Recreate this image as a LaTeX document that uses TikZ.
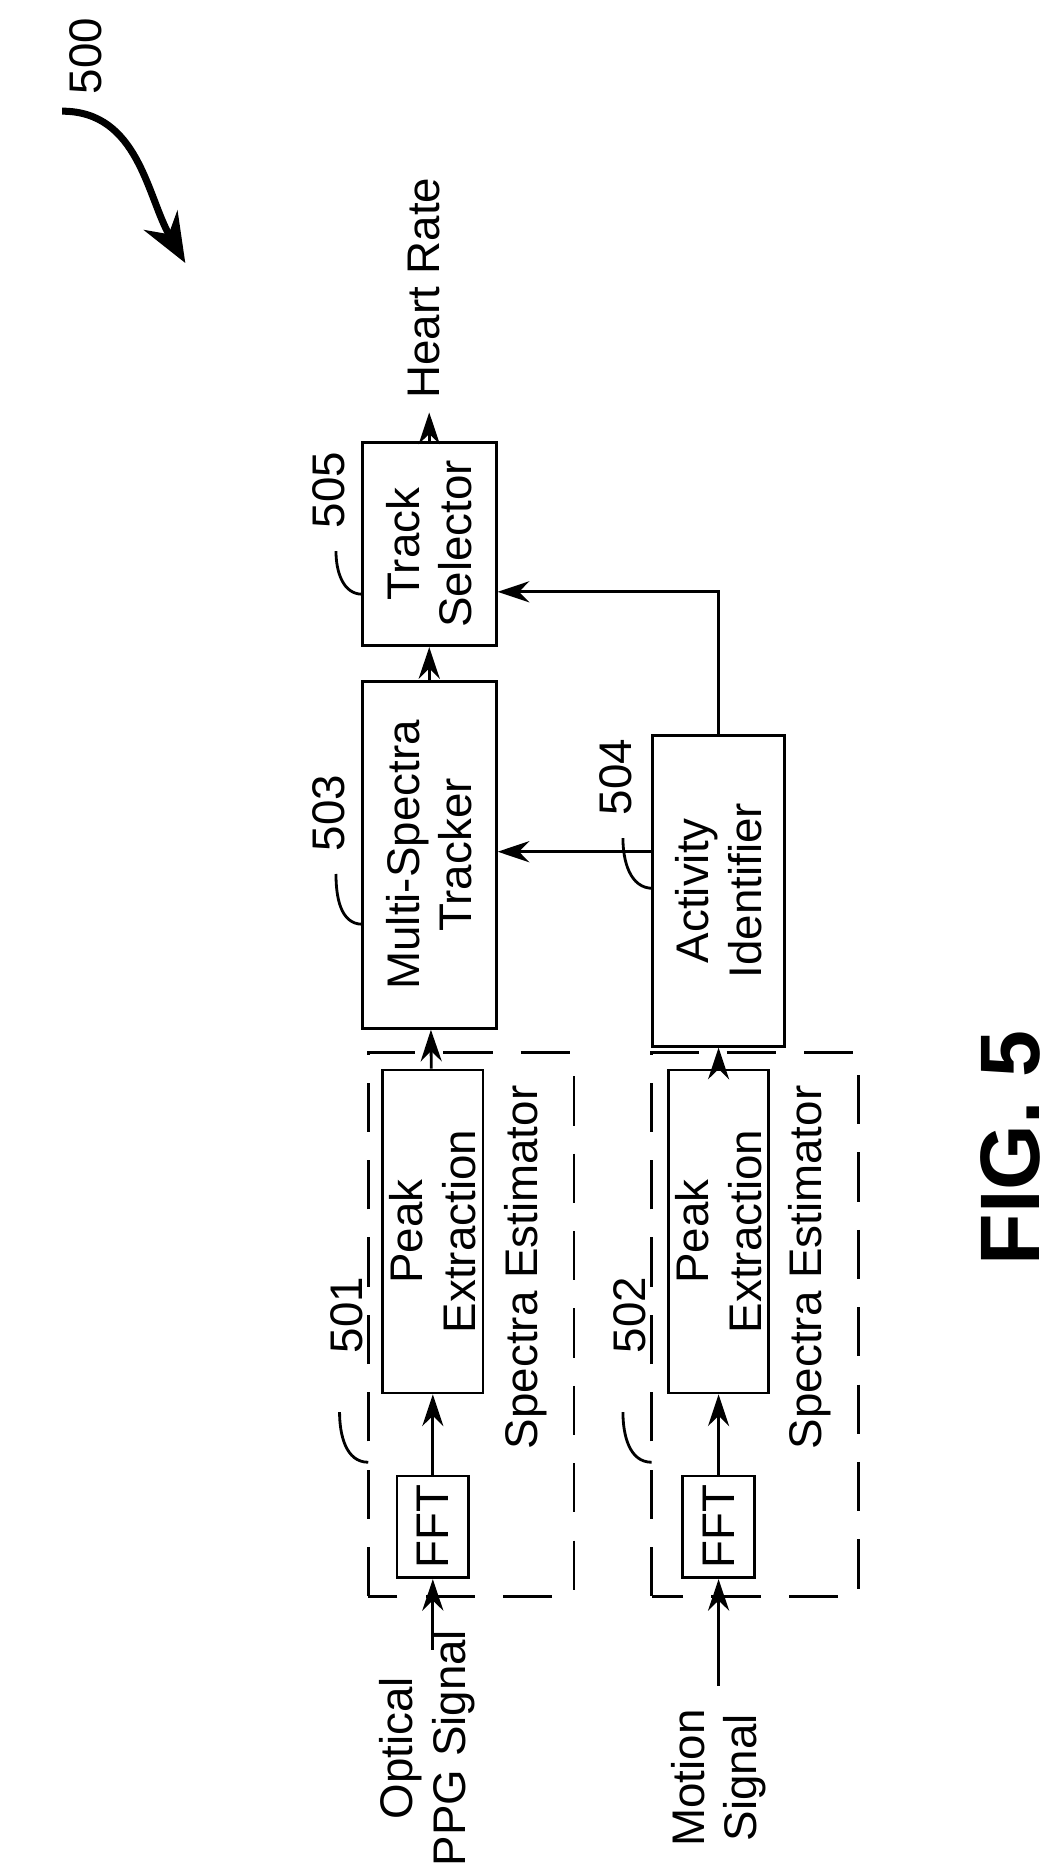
\documentclass[tikz,border=0pt]{standalone}
\usepackage{fontspec}
\setmainfont{Liberation Sans}
\usetikzlibrary{arrows.meta, positioning, calc}

\tikzset{
  blk/.style={draw, thick, rotate=90, align=center, inner sep=2pt, font=\fontsize{13}{15}\selectfont},
  lbl/.style={rotate=90, align=center, font=\fontsize{13}{15}\selectfont},
  arr/.style={-{Stealth[length=9pt,width=6pt]}, thick},
  lead/.style={thick},
  est/.style={draw, thick, dash pattern=on 14pt off 8pt}
}

\begin{document}
\begin{tikzpicture}[x=0.011955cm, y=0.011955cm]
\useasboundingbox (0,0) rectangle (880,1559);

% estimator frames
\draw[est] (308,224) rectangle (480,679);
\draw[est] (545,224) rectangle (718,679);
\node[lbl] (est1) at (440,499) {Spectra Estimator};
\node[lbl] (est2) at (677,499) {Spectra Estimator};

% blocks
\node[blk, minimum width=85*0.11955mm, minimum height=60*0.11955mm] (fft1) at (362,282) {FFT};
\node[blk, minimum width=270*0.11955mm, minimum height=80*0.11955mm] (peak1) at (362,529) {Peak\\Extraction};
\node[blk, minimum width=85*0.11955mm, minimum height=60*0.11955mm] (fft2) at (601,282) {FFT};
\node[blk, minimum width=270*0.11955mm, minimum height=80*0.11955mm] (peak2) at (601,529) {Peak\\Extraction};
\node[blk, minimum width=290*0.11955mm, minimum height=112*0.11955mm] (tracker) at (359,844) {Multi-Spectra\\Tracker};
\node[blk, minimum width=260*0.11955mm, minimum height=110*0.11955mm] (activity) at (601,814) {Activity\\Identifier};
\node[blk, minimum width=170*0.11955mm, minimum height=112*0.11955mm] (selector) at (359,1104) {Track\\Selector};

% inputs and output
\coordinate (ppgin) at (362,179);
\coordinate (motin) at (601,149);
\coordinate (hrout) at (359,1214);
\coordinate (turn) at (601,1064);
\node[lbl] (ppg) at (357,97) {Optical\\PPG Signal};
\node[lbl] (motion) at (601,72) {Motion\\Signal};
\node[lbl] (hrtext) at (355,1318) {Heart Rate};

% connectors
\draw[arr] (ppgin) -- (fft1);
\draw[arr] (fft1) -- (peak1);
\draw[arr] (peak1) -- (tracker);
\draw[arr] (motin) -- (fft2);
\draw[arr] (fft2) -- (peak2);
\draw[arr] (peak2) -- (activity);
\draw[arr] (tracker) -- (selector);
\draw[arr] (selector) -- (hrout);
\draw[arr] ([yshift=0.39cm]activity.north) -- ([yshift=0.39cm]activity.north -| tracker.south);
\draw[arr] (activity.east) -- (turn) -- (turn -| selector.south);

% reference numerals
\node[lbl] (n501) at (290,459) {501};
\draw[lead] (284,378) to[out=-90, in=180] (308,336);
\node[lbl] (n502) at (527,459) {502};
\draw[lead] (521,378) to[out=-90, in=180] (545,336);
\node[lbl] (n503) at (275,879) {503};
\draw[lead] (281,828) to[out=-90, in=180] (303,786);
\node[lbl] (n504) at (515,909) {504};
\draw[lead] (521,858) to[out=-90, in=180] (546,816);
\node[lbl] (n505) at (275,1149) {505};
\draw[lead] (281,1098) to[out=-90, in=180] (303,1062);

% figure numeral
\node[lbl] (n500) at (72,1512) {500};
\draw[-{Stealth[length=14pt,width=11pt]}, line width=2pt] (52,1466) to[out=0, in=120] (155,1339);
\node[rotate=90, font=\fontsize{24}{26}\selectfont\bfseries] (fig) at (845,599) {FIG. 5};
\end{tikzpicture}
\end{document}
